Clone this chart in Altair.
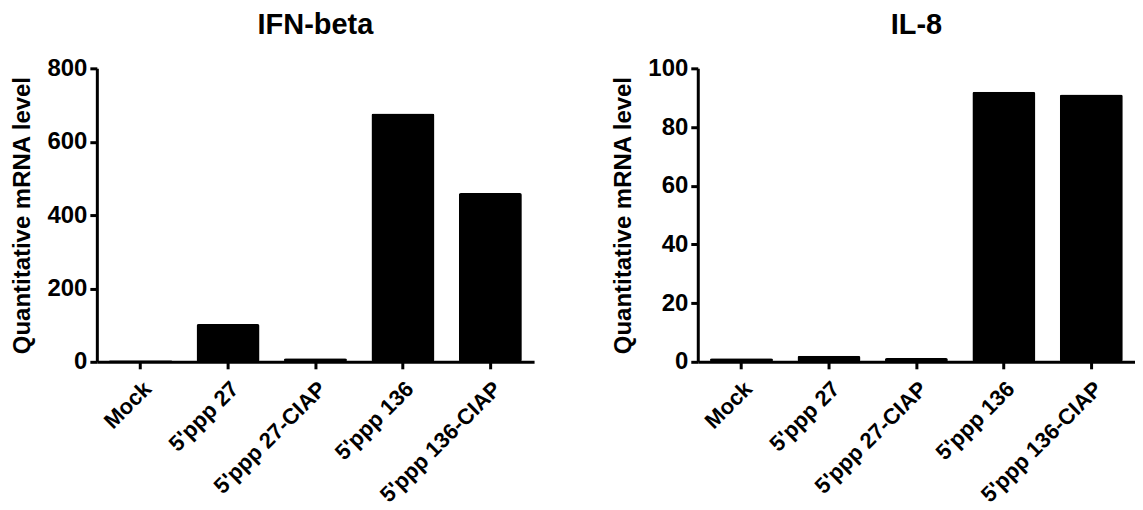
import altair as alt
import pandas as pd

categories = ["Mock", "5'ppp 27", "5'ppp 27-CIAP", "5'ppp 136", "5'ppp 136-CIAP"]
ifn_beta = [4, 103, 10, 677, 460]
il8 = [1.2, 2.1, 1.3, 92.0, 91.1]

df_ifn = pd.DataFrame({"cat": categories, "val": ifn_beta})
df_il8 = pd.DataFrame({"cat": categories, "val": il8})

FONT = "Liberation Sans"


def panel(df, title, ymax, step):
    return (
        alt.Chart(df, title=alt.TitleParams(title, fontSize=29, font=FONT, fontWeight="bold",
                                             color="black", offset=16, anchor="middle"))
        .mark_bar(color="black", cornerRadius=2)
        .encode(
            x=alt.X("cat:N", sort=categories, title=None,
                    scale=alt.Scale(paddingInner=0.28, paddingOuter=0.14),
                    axis=alt.Axis(labelAngle=-45, labelAlign="right", labelBaseline="top",
                                  labelPadding=9, labelFontSize=22)),
            y=alt.Y("val:Q", title="Quantitative mRNA level",
                    scale=alt.Scale(domain=[0, ymax], nice=False),
                    axis=alt.Axis(values=list(range(0, ymax + 1, step)), titlePadding=12)),
        )
        .properties(width=438, height=294)
    )


left = panel(df_ifn, "IFN-beta", 800, 200)
right = panel(df_il8, "IL-8", 100, 20)

chart = (
    alt.hconcat(left, right, spacing=77)
    .properties(padding={"left": 2, "top": 3, "right": 0, "bottom": 0})
    .configure_view(stroke=None)
    .configure_axis(
        grid=False,
        labelFont=FONT, labelFontSize=24, labelFontWeight="bold", labelColor="black",
        titleFont=FONT, titleFontSize=24, titleFontWeight="bold", titleColor="black",
        domainColor="black", domainWidth=3, tickColor="black", tickWidth=3, tickSize=7,
        labelPadding=3,
    )
)

chart.save("out.html", embed_options={"renderer": "svg", "actions": False})
